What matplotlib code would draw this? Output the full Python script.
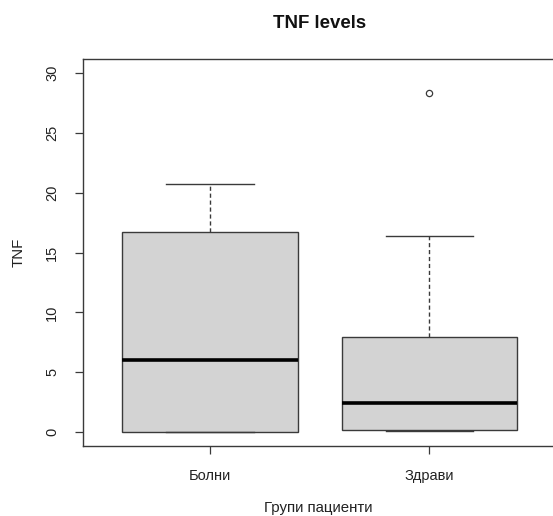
import matplotlib
matplotlib.use('Agg')
import matplotlib.pyplot as plt

# Chart data
groups = ['Болни', 'Здрави']
q1 = [0.0, 0.17]
medians = [6.0, 2.45]
q3 = [16.7, 7.95]
whisker_lo = [0.0, 0.08]
whisker_hi = [20.75, 16.4]
outliers = [[], [28.35]]
y_ticks = [0, 5, 10, 15, 20, 25, 30]

plt.rcParams['font.family'] = ['Liberation Sans', 'DejaVu Sans']

W, H = 553, 516
fig = plt.figure(figsize=(W / 100, H / 100), dpi=100)

# axes frame in pixels: left 83, top 58.6, right 556.5 (cropped), bottom 446.4
left, right, top, bottom = 83, 556.5, 58.6, 446.4
ax = fig.add_axes([left / W, 1 - bottom / H, (right - left) / W, (bottom - top) / H])

stats = []
for i in range(len(groups)):
    stats.append({
        'q1': q1[i], 'med': medians[i], 'q3': q3[i],
        'whislo': whisker_lo[i], 'whishi': whisker_hi[i],
        'fliers': outliers[i], 'label': groups[i],
    })

edge = '#3a3a3a'
ax.bxp(stats, positions=[1, 2], widths=0.8, patch_artist=True,
       boxprops=dict(facecolor='#d3d3d3', edgecolor=edge, linewidth=1.0),
       medianprops=dict(color='black', linewidth=2.6, solid_capstyle='butt'),
       whiskerprops=dict(color=edge, linewidth=1.0, linestyle=(0, (3, 2))),
       capprops=dict(color=edge, linewidth=1.0),
       flierprops=dict(marker='o', markersize=4.5, markerfacecolor='none',
                       markeredgecolor=edge, markeredgewidth=0.9),
       capwidths=0.4)

ax.set_xlim(0.42, 2.58)
ax.set_ylim(-1.2, 31.2)
ax.set_yticks(y_ticks)
ax.set_yticklabels([str(v) for v in y_ticks], rotation=90, va='center')
ax.set_xticks([1, 2])
ax.set_xticklabels(groups)

for s in ax.spines.values():
    s.set_color(edge)
    s.set_linewidth(1.0)

ax.tick_params(axis='both', direction='out', length=5.8, width=0.9, color=edge,
               labelsize=10.5, labelcolor='#222222')
ax.tick_params(axis='y', pad=11.5)
ax.tick_params(axis='x', pad=10.5)

fig.text((left + right) / 2 / W, 1 - 24 / H, 'TNF levels', ha='center', va='center',
         fontsize=13.4, fontweight='bold', color='#111111')
fig.text(318 / W, 1 - 508 / H, 'Групи пациенти', ha='center', va='center',
         fontsize=10.8, color='#222222')
fig.text(19 / W, 1 - 252 / H, 'TNF', ha='center', va='center', rotation=90,
         fontsize=10.8, color='#222222')

fig.savefig('out.png', dpi=100)
